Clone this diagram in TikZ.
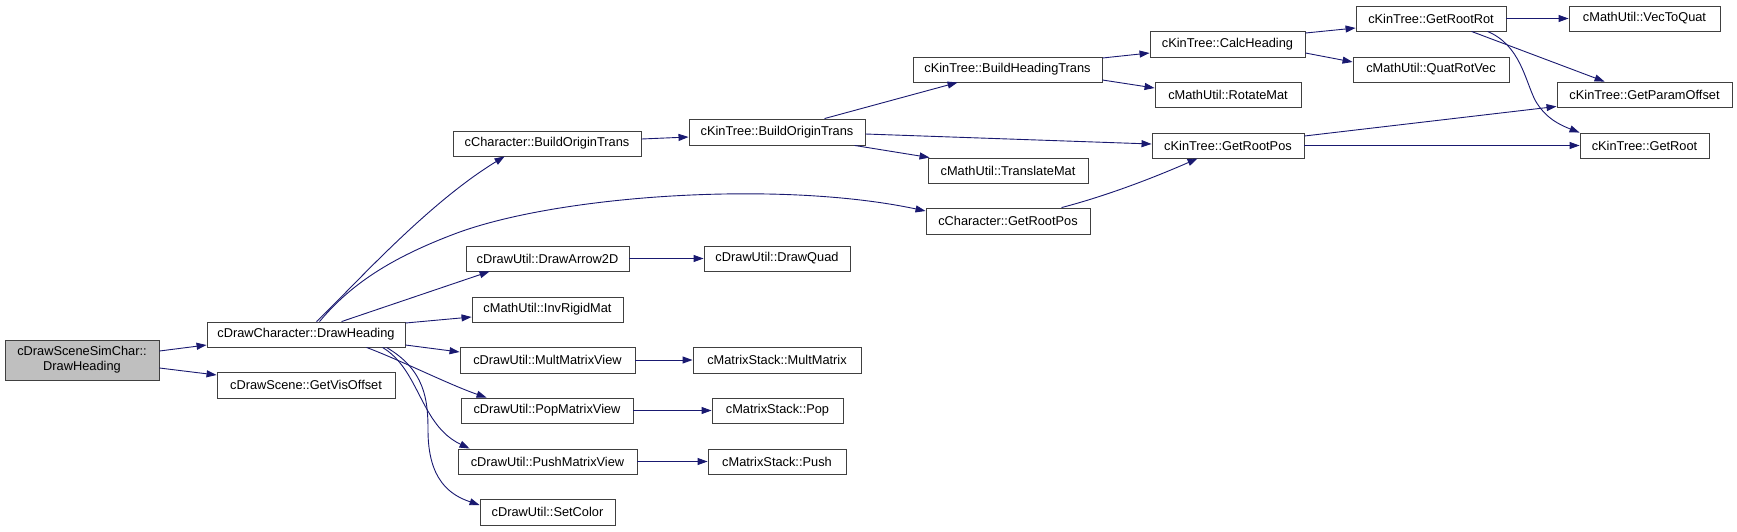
\documentclass[tikz,border=0pt]{standalone}
\usepackage{fontspec}
\setmainfont{Liberation Sans}
\usetikzlibrary{arrows.meta}
\definecolor{edgeblue}{RGB}{25,25,112}
\definecolor{rootgray}{RGB}{191,191,191}
\definecolor{boxline}{RGB}{64,64,64}
\tikzset{
  fn/.style={draw=boxline, line width=0.9pt, fill=white, inner sep=0pt,
    font=\fontsize{12.8}{15}\selectfont, text=black, anchor=center},
  rootfn/.style={fn, fill=rootgray, align=center},
  call/.style={draw=edgeblue, line width=0.9pt,
    -{Triangle[length=10pt,width=7pt]}, fill=none},
}
\begin{document}
\begin{tikzpicture}[x=1pt,y=-1pt]
\useasboundingbox (0,0) rectangle (1737,531);
% nodes
\node[rootfn, minimum width=154pt, minimum height=40pt] (sim) at (82,360) {cDrawSceneSimChar::\\DrawHeading};
\node[fn, minimum width=198pt, minimum height=25pt] (dh) at (306,334.5) {cDrawCharacter::DrawHeading};
\node[fn, minimum width=178pt, minimum height=26pt] (gvo) at (306,385) {cDrawScene::GetVisOffset};
\node[fn, minimum width=188pt, minimum height=25pt] (cbot) at (547,143.5) {cCharacter::BuildOriginTrans};
\node[fn, minimum width=176pt, minimum height=26pt] (kbot) at (777,132) {cKinTree::BuildOriginTrans};
\node[fn, minimum width=163pt, minimum height=25pt] (arr) at (547.5,258.5) {cDrawUtil::DrawArrow2D};
\node[fn, minimum width=146pt, minimum height=25pt] (quad) at (777,258.5) {cDrawUtil::DrawQuad};
\node[fn, minimum width=151pt, minimum height=25pt] (inv) at (547.5,309.5) {cMathUtil::InvRigidMat};
\node[fn, minimum width=175pt, minimum height=26pt] (mmv) at (547.5,360) {cDrawUtil::MultMatrixView};
\node[fn, minimum width=168pt, minimum height=26pt] (mm) at (777,360) {cMatrixStack::MultMatrix};
\node[fn, minimum width=172pt, minimum height=25pt] (pmv) at (547,410.5) {cDrawUtil::PopMatrixView};
\node[fn, minimum width=131pt, minimum height=25pt] (pop) at (777.5,410.5) {cMatrixStack::Pop};
\node[fn, minimum width=179pt, minimum height=25pt] (psmv) at (547.5,461.5) {cDrawUtil::PushMatrixView};
\node[fn, minimum width=138pt, minimum height=25pt] (push) at (777,461.5) {cMatrixStack::Push};
\node[fn, minimum width=135pt, minimum height=26pt] (setc) at (547.5,512) {cDrawUtil::SetColor};
\node[fn, minimum width=189pt, minimum height=25pt] (kbht) at (1007.5,69.5) {cKinTree::BuildHeadingTrans};
\node[fn, minimum width=155pt, minimum height=26pt] (ch) at (1227.5,44) {cKinTree::CalcHeading};
\node[fn, minimum width=146pt, minimum height=25pt] (rot) at (1228,94.5) {cMathUtil::RotateMat};
\node[fn, minimum width=152pt, minimum height=25pt] (krp) at (1228,145.5) {cKinTree::GetRootPos};
\node[fn, minimum width=160pt, minimum height=25pt] (tm) at (1008,170.5) {cMathUtil::TranslateMat};
\node[fn, minimum width=164pt, minimum height=26pt] (crp) at (1008,221) {cCharacter::GetRootPos};
\node[fn, minimum width=150pt, minimum height=25pt] (grr) at (1431,18.5) {cKinTree::GetRootRot};
\node[fn, minimum width=151pt, minimum height=25pt] (v2q) at (1644.5,18.5) {cMathUtil::VecToQuat};
\node[fn, minimum width=156pt, minimum height=25pt] (qrv) at (1431,69.5) {cMathUtil::QuatRotVec};
\node[fn, minimum width=175pt, minimum height=25pt] (gpo) at (1644.5,94.5) {cKinTree::GetParamOffset};
\node[fn, minimum width=129pt, minimum height=25pt] (gr) at (1644.5,145.5) {cKinTree::GetRoot};
% edges
\draw[call] ([yshift=9pt]sim.east) -- ([yshift=-10.5pt]dh.west);
\draw[call] ([yshift=-8pt]sim.east) -- ([yshift=10pt]gvo.west);
\draw[call] ([xshift=110pt]dh.north west) .. controls (350,290) and (425,205) .. ([xshift=52pt]cbot.south west);
\coordinate (via1) at (457,233);
\draw[call] ([xshift=113pt]dh.north west) .. controls (350,285) and (390,258) .. (via1)
  .. controls (560,195) and (780,180) .. ([yshift=10pt]crp.west);
\draw[call] ([xshift=135pt]dh.north west) -- ([xshift=24pt]arr.south west);
\draw[call] ([yshift=11.5pt]dh.east) -- ([yshift=-7.5pt]inv.west);
\draw[call] ([yshift=-10.5pt]dh.east) -- ([yshift=8pt]mmv.west);
\draw[call] ([xshift=160pt]dh.south west) .. controls (400,360) and (450,385) .. ([xshift=26pt]pmv.north west);
\draw[call] ([xshift=176pt]dh.south west) .. controls (420,370) and (420,425) .. ([xshift=12pt]psmv.north west);
\coordinate (via2) at (428,430);
\draw[call] ([xshift=180pt]dh.south west) .. controls (425,370) and (428,400) .. (via2)
  .. controls (428,480) and (450,495) .. ([yshift=7pt]setc.west);
\draw[call] ([yshift=4.5pt]cbot.east) -- ([yshift=-5pt]kbot.west);
\draw[call] ([xshift=136pt]kbot.north west) -- ([xshift=45pt]kbht.south west);
\draw[call] ([yshift=-2pt]kbot.east) -- ([yshift=1.5pt]krp.west);
\draw[call] ([xshift=166pt]kbot.south west) -- ([xshift=2pt]tm.north west);
\draw[call] ([yshift=11.5pt]kbht.east) -- ([yshift=-9pt]ch.west);
\draw[call] ([yshift=-10.5pt]kbht.east) -- ([yshift=6.5pt]rot.west);
\draw[call] ([yshift=11pt]ch.east) -- ([yshift=-9.5pt]grr.west);
\draw[call] ([yshift=-9pt]ch.east) -- ([yshift=7.5pt]qrv.west);
\draw[call] (grr.east) -- (v2q.west);
\draw[call] ([xshift=116pt]grr.south west) -- ([xshift=48pt]gpo.north west);
\coordinate (via3) at (1535,100);
\draw[call] ([xshift=132pt]grr.south west) .. controls (1520,45) and (1525,80) .. (via3)
  .. controls (1545,118) and (1560,125) .. (gr.north west);
\draw[call] ([yshift=9.5pt]krp.east) -- ([yshift=1pt]gpo.south west);
\draw[call] (krp.east) -- (gr.west);
\draw[call] ([xshift=136pt]crp.north west) .. controls (1110,195) and (1160,175) .. ([xshift=46pt]krp.south west);
\draw[call] (arr.east) -- (quad.west);
\draw[call] (mmv.east) -- (mm.west);
\draw[call] (pmv.east) -- (pop.west);
\draw[call] (psmv.east) -- (push.west);
\end{tikzpicture}
\end{document}
